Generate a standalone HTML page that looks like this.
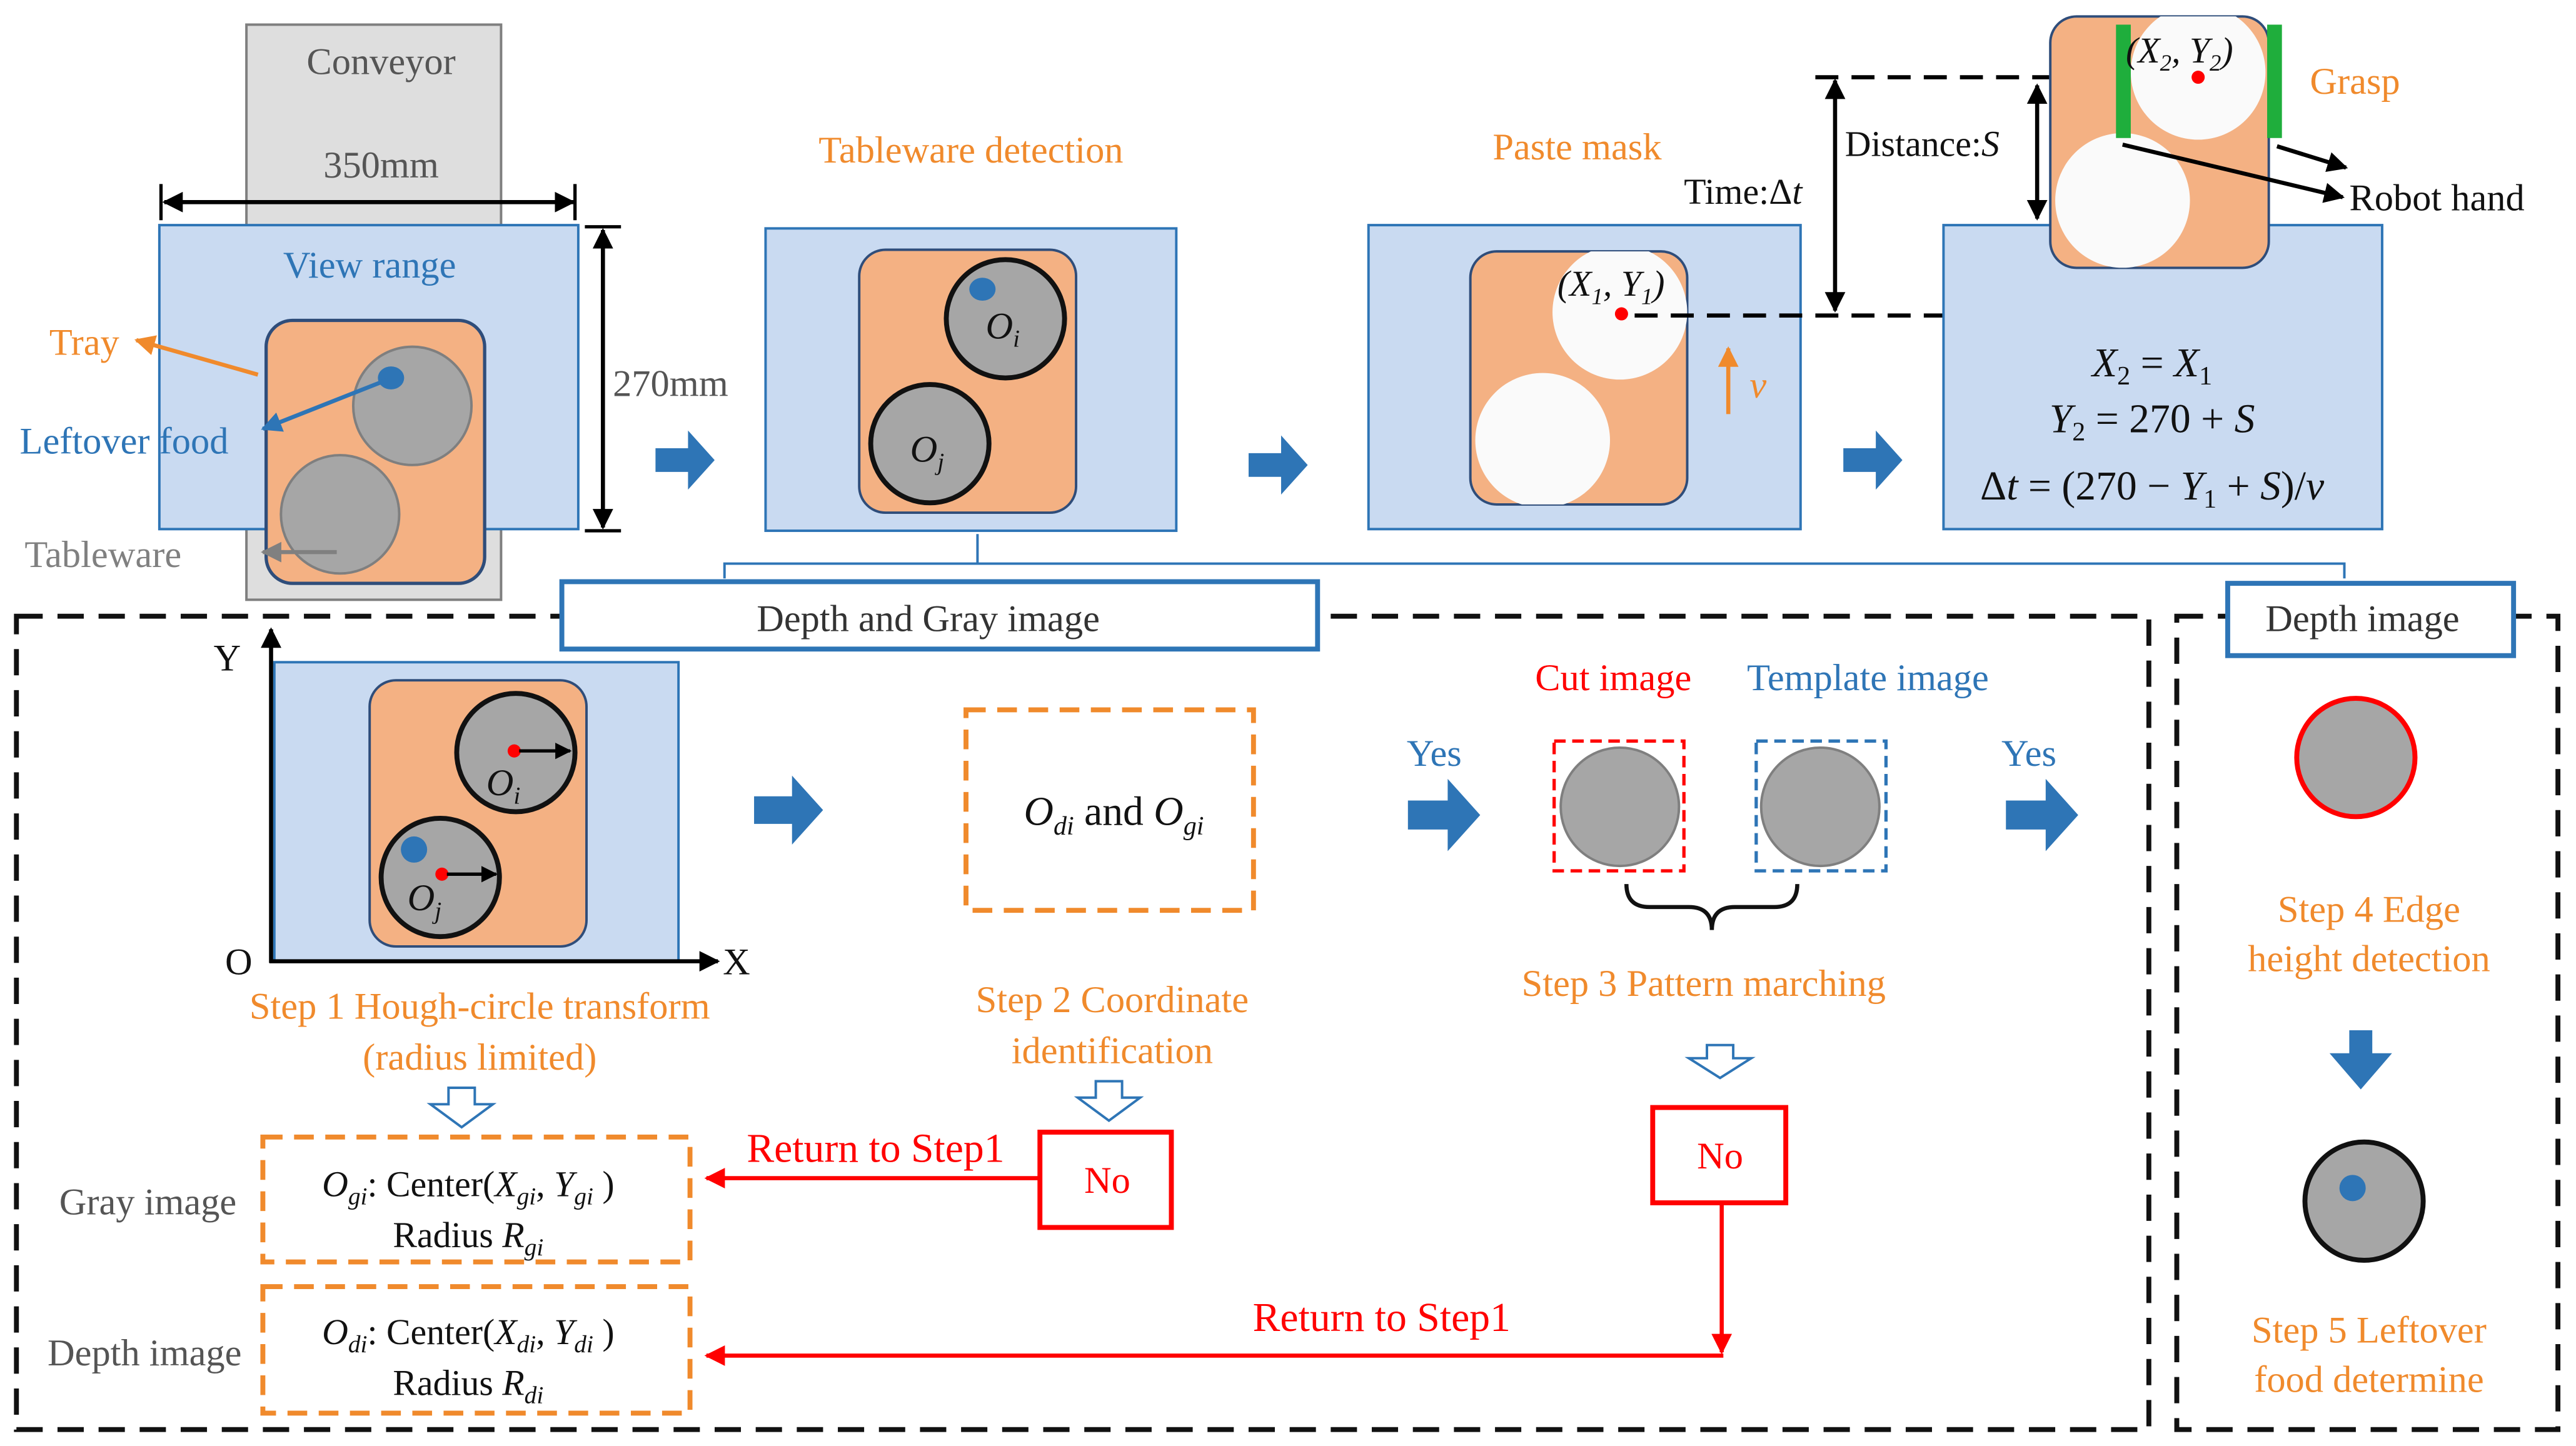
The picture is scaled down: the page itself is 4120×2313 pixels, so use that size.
<!DOCTYPE html>
<html><head><meta charset="utf-8"><style>
html,body{margin:0;padding:0;background:#fff;width:4120px;height:2313px;overflow:hidden}
svg{display:block}
text{font-family:"Liberation Serif",serif}
.o{fill:#f08a2c}.b{fill:#2e75b6}.r{fill:#ff0000}.k{fill:#111}.g{fill:#808080}
.m{font-style:italic}
</style></head><body>
<svg width="4120" height="2313" viewBox="0 0 1568 880" preserveAspectRatio="none" xmlns="http://www.w3.org/2000/svg">
<defs>
<marker id="ak" viewBox="0 0 10 10" refX="9" refY="5" markerWidth="5" markerHeight="5" orient="auto-start-reverse"><path d="M0,0L10,5L0,10z" fill="#000"/></marker>
<marker id="ar" viewBox="0 0 10 10" refX="9" refY="5" markerWidth="5" markerHeight="5" orient="auto"><path d="M0,0L10,5L0,10z" fill="#f00"/></marker>
<marker id="ao" viewBox="0 0 10 10" refX="9" refY="5" markerWidth="5" markerHeight="5" orient="auto"><path d="M0,0L10,5L0,10z" fill="#f08a2c"/></marker>
<marker id="ab" viewBox="0 0 10 10" refX="9" refY="5" markerWidth="5" markerHeight="5" orient="auto"><path d="M0,0L10,5L0,10z" fill="#2e75b6"/></marker>
<marker id="ag" viewBox="0 0 10 10" refX="9" refY="5" markerWidth="5" markerHeight="5" orient="auto"><path d="M0,0L10,5L0,10z" fill="#808080"/></marker>
<clipPath id="c1"><rect x="895" y="153" width="132" height="154" rx="16"/></clipPath>
<clipPath id="c2"><rect x="1248" y="10" width="133" height="153" rx="16"/></clipPath>
<symbol id="barrow" viewBox="0 0 40 40"><path d="M0,12H22V0L40,20L22,40V28H0z" fill="#2e75b6"/></symbol>
</defs>

<rect x="150" y="15" width="155" height="350" fill="#dedede" stroke="#7f7f7f" stroke-width="1.5"/>
<text x="232" y="45" font-size="23" text-anchor="middle" fill="#555">Conveyor</text>
<text x="232" y="108" font-size="23" text-anchor="middle" fill="#555">350mm</text>
<line x1="100" y1="123" x2="349" y2="123" stroke="#000" stroke-width="2.5" marker-start="url(#ak)" marker-end="url(#ak)"/>
<line x1="98" y1="112" x2="98" y2="134" stroke="#000" stroke-width="2"/>
<line x1="350" y1="112" x2="350" y2="134" stroke="#000" stroke-width="2"/>
<rect x="97" y="137" width="255" height="185" fill="#c9daf1" stroke="#2e75b6" stroke-width="1.5"/>
<text x="225" y="169" font-size="23" text-anchor="middle" class="b">View range</text>
<rect x="162" y="195" width="133" height="160" rx="16" fill="#f4b183" stroke="#2f4d7a" stroke-width="2"/>
<circle cx="251" cy="247" r="36" fill="#a6a6a6" stroke="#7f7f7f" stroke-width="1.5"/>
<circle cx="207" cy="313" r="36" fill="#a6a6a6" stroke="#7f7f7f" stroke-width="1.5"/>
<ellipse cx="238" cy="230" rx="8" ry="7" fill="#2e75b6"/>
<text x="30" y="216" font-size="23" class="o">Tray</text>
<line x1="157" y1="228" x2="83" y2="207" stroke="#f08a2c" stroke-width="2.5" marker-end="url(#ao)"/>
<text x="12" y="276" font-size="23" class="b">Leftover food</text>
<line x1="236" y1="231" x2="160" y2="261" stroke="#2e75b6" stroke-width="2.5" marker-end="url(#ab)"/>
<text x="15" y="345" font-size="23" class="g">Tableware</text>
<line x1="205" y1="336" x2="160" y2="336" stroke="#808080" stroke-width="2.5" marker-end="url(#ag)"/>
<line x1="367" y1="140" x2="367" y2="321" stroke="#000" stroke-width="2.5" marker-start="url(#ak)" marker-end="url(#ak)"/>
<line x1="356" y1="138" x2="378" y2="138" stroke="#000" stroke-width="2"/>
<line x1="356" y1="323" x2="378" y2="323" stroke="#000" stroke-width="2"/>
<text x="373" y="241" font-size="23" fill="#555">270mm</text>
<use href="#barrow" x="398" y="262" width="38" height="36"/>

<text x="591" y="99" font-size="23" text-anchor="middle" class="o">Tableware detection</text>
<rect x="466" y="139" width="250" height="184" fill="#c9daf1" stroke="#2e75b6" stroke-width="1.5"/>
<rect x="523" y="152" width="132" height="160" rx="16" fill="#f4b183" stroke="#2f4d7a" stroke-width="1.5"/>
<circle cx="612" cy="194" r="36" fill="#a6a6a6" stroke="#111" stroke-width="3"/>
<circle cx="566" cy="270" r="36" fill="#a6a6a6" stroke="#111" stroke-width="3"/>
<ellipse cx="598" cy="176" rx="8" ry="7" fill="#2e75b6"/>
<text x="600" y="206" font-size="23" class="k m">O<tspan font-size="15" dy="5">i</tspan></text>
<text x="554" y="281" font-size="23" class="k m">O<tspan font-size="15" dy="5">j</tspan></text>
<use href="#barrow" x="760" y="265" width="36" height="36"/>

<text x="960" y="97" font-size="23" text-anchor="middle" class="o">Paste mask</text>
<rect x="833" y="137" width="263" height="185" fill="#c9daf1" stroke="#2e75b6" stroke-width="1.5"/>
<rect x="895" y="153" width="132" height="154" rx="16" fill="#f4b183" stroke="#2f4d7a" stroke-width="1.5"/>
<g clip-path="url(#c1)"><circle cx="986" cy="190" r="41" fill="#fafafa"/><circle cx="939" cy="268" r="41" fill="#fafafa"/></g>
<circle cx="987" cy="191" r="4" fill="#f00"/>
<text x="948" y="180" font-size="22" class="k m">(X<tspan font-size="14" dy="5">1</tspan><tspan dy="-5">, Y</tspan><tspan font-size="14" dy="5">1</tspan><tspan dy="-5">)</tspan></text>
<line x1="995" y1="192" x2="1228" y2="192" stroke="#000" stroke-width="2.5" stroke-dasharray="14,8"/>
<line x1="1052" y1="252" x2="1052" y2="212" stroke="#f08a2c" stroke-width="2.5" marker-end="url(#ao)"/>
<text x="1065" y="242" font-size="23" class="o m">v</text>
<text x="1025" y="124" font-size="22" class="k">Time:Δ<tspan class="m">t</tspan></text>
<line x1="1117" y1="49" x2="1117" y2="189" stroke="#000" stroke-width="2.5" marker-start="url(#ak)" marker-end="url(#ak)"/>
<line x1="1105" y1="47" x2="1300" y2="47" stroke="#000" stroke-width="2.5" stroke-dasharray="14,8"/>
<text x="1123" y="95" font-size="22" class="k">Distance:<tspan class="m">S</tspan></text>
<line x1="1240" y1="52" x2="1240" y2="133" stroke="#000" stroke-width="2.5" marker-start="url(#ak)" marker-end="url(#ak)"/>
<use href="#barrow" x="1122" y="262" width="36" height="36"/>

<rect x="1183" y="137" width="267" height="185" fill="#c9daf1" stroke="#2e75b6" stroke-width="1.5"/>
<rect x="1248" y="10" width="133" height="153" rx="16" fill="#f4b183" stroke="#2f4d7a" stroke-width="1.5"/>
<g clip-path="url(#c2)"><circle cx="1338" cy="44" r="41" fill="#fafafa"/><circle cx="1292" cy="122" r="41" fill="#fafafa"/></g>
<rect x="1288" y="15" width="9" height="69" fill="#1fae3c"/>
<rect x="1380" y="15" width="9" height="69" fill="#1fae3c"/>
<circle cx="1338" cy="47" r="4" fill="#f00"/>
<text x="1294" y="38" font-size="22" class="k m">(X<tspan font-size="14" dy="5">2</tspan><tspan dy="-5">, Y</tspan><tspan font-size="14" dy="5">2</tspan><tspan dy="-5">)</tspan></text>
<text x="1406" y="57" font-size="23" class="o">Grasp</text>
<line x1="1386" y1="89" x2="1428" y2="102" stroke="#000" stroke-width="2.5" marker-end="url(#ak)"/>
<line x1="1292" y1="88" x2="1426" y2="120" stroke="#000" stroke-width="2.5" marker-end="url(#ak)"/>
<text x="1430" y="128" font-size="23" class="k">Robot hand</text>
<text x="1310" y="229" font-size="25" text-anchor="middle" class="k"><tspan class="m">X</tspan><tspan font-size="16" dy="5">2</tspan><tspan dy="-5"> = </tspan><tspan class="m">X</tspan><tspan font-size="16" dy="5">1</tspan></text>
<text x="1310" y="263" font-size="25" text-anchor="middle" class="k"><tspan class="m">Y</tspan><tspan font-size="16" dy="5">2</tspan><tspan dy="-5"> = 270 + </tspan><tspan class="m">S</tspan></text>
<text x="1310" y="304" font-size="25" text-anchor="middle" class="k">Δ<tspan class="m">t</tspan> = (270 − <tspan class="m">Y</tspan><tspan font-size="16" dy="5">1</tspan><tspan dy="-5"> + </tspan><tspan class="m">S</tspan>)/<tspan class="m">v</tspan></text>

<path d="M441,352V343H1427V352M595,343V325" fill="none" stroke="#2e75b6" stroke-width="1.5"/>

<rect x="10" y="375" width="1298" height="495" fill="none" stroke="#111" stroke-width="3" stroke-dasharray="16,9"/>
<rect x="1325" y="375" width="232" height="495" fill="none" stroke="#111" stroke-width="3" stroke-dasharray="16,9"/>
<rect x="342" y="354" width="460" height="41" fill="#fff" stroke="#2e75b6" stroke-width="3"/>
<text x="565" y="384" font-size="23" text-anchor="middle" fill="#333">Depth and Gray image</text>
<rect x="1356" y="355" width="174" height="44" fill="#fff" stroke="#2e75b6" stroke-width="3"/>
<text x="1438" y="384" font-size="23" text-anchor="middle" fill="#333">Depth image</text>

<rect x="167" y="403" width="246" height="182" fill="#c9daf1" stroke="#2e75b6" stroke-width="1.5"/>
<line x1="165" y1="586" x2="165" y2="383" stroke="#000" stroke-width="2.5" marker-end="url(#ak)"/>
<line x1="164" y1="585" x2="437" y2="585" stroke="#000" stroke-width="2.5" marker-end="url(#ak)"/>
<text x="130" y="408" font-size="23" class="k">Y</text>
<text x="137" y="593" font-size="23" class="k">O</text>
<text x="440" y="593" font-size="23" class="k">X</text>
<rect x="225" y="414" width="132" height="162" rx="16" fill="#f4b183" stroke="#2f4d7a" stroke-width="1.5"/>
<circle cx="314" cy="458" r="36" fill="#a6a6a6" stroke="#111" stroke-width="3"/>
<circle cx="268" cy="534" r="36" fill="#a6a6a6" stroke="#111" stroke-width="3"/>
<circle cx="313" cy="457" r="4" fill="#f00"/><line x1="316" y1="457" x2="347" y2="457" stroke="#000" stroke-width="2" marker-end="url(#ak)"/>
<circle cx="269" cy="532" r="4" fill="#f00"/><line x1="272" y1="532" x2="302" y2="532" stroke="#000" stroke-width="2" marker-end="url(#ak)"/>
<ellipse cx="252" cy="517" rx="8" ry="8" fill="#2e75b6"/>
<text x="296" y="484" font-size="23" class="k m">O<tspan font-size="15" dy="5">i</tspan></text>
<text x="248" y="554" font-size="23" class="k m">O<tspan font-size="15" dy="5">j</tspan></text>
<text x="292" y="620" font-size="23" text-anchor="middle" class="o">Step 1 Hough-circle transform</text>
<text x="292" y="651" font-size="23" text-anchor="middle" class="o">(radius limited)</text>
<path d="M273,662h16v10h11l-19,14l-19,-14h11z" fill="#fff" stroke="#2e75b6" stroke-width="1.5"/>
<use href="#barrow" x="450" y="472" width="60" height="42"/>

<rect x="588" y="432" width="175" height="122" fill="none" stroke="#f08a2c" stroke-width="3" stroke-dasharray="12,7"/>
<text x="678" y="502" font-size="25" text-anchor="middle" class="k"><tspan class="m">O</tspan><tspan font-size="16" dy="6" class="m">di</tspan><tspan dy="-6"> and </tspan><tspan class="m">O</tspan><tspan font-size="16" dy="6" class="m">gi</tspan></text>
<text x="677" y="616" font-size="23" text-anchor="middle" class="o">Step 2 Coordinate</text>
<text x="677" y="647" font-size="23" text-anchor="middle" class="o">identification</text>
<path d="M667,658h16v10h11l-19,14l-19,-14h11z" fill="#fff" stroke="#2e75b6" stroke-width="1.5"/>
<rect x="633" y="689" width="80" height="58" fill="#fff" stroke="#f00" stroke-width="3"/>
<text x="674" y="726" font-size="23" text-anchor="middle" class="r">No</text>
<text x="533" y="707" font-size="25" text-anchor="middle" class="r">Return to Step1</text>
<line x1="632" y1="717" x2="430" y2="717" stroke="#f00" stroke-width="2.5" marker-end="url(#ar)"/>

<text x="90" y="739" font-size="23" text-anchor="middle" fill="#555">Gray image</text>
<rect x="160" y="692" width="260" height="76" fill="#fff" stroke="#f08a2c" stroke-width="3" stroke-dasharray="12,7"/>
<text x="285" y="728" font-size="22" text-anchor="middle" class="k"><tspan class="m">O</tspan><tspan font-size="15" dy="5" class="m">gi</tspan><tspan dy="-5">: Center(</tspan><tspan class="m">X</tspan><tspan font-size="15" dy="5" class="m">gi</tspan><tspan dy="-5">, </tspan><tspan class="m">Y</tspan><tspan font-size="15" dy="5" class="m">gi</tspan><tspan dy="-5"> )</tspan></text>
<text x="285" y="759" font-size="22" text-anchor="middle" class="k">Radius <tspan class="m">R</tspan><tspan font-size="15" dy="5" class="m">gi</tspan></text>
<text x="88" y="831" font-size="23" text-anchor="middle" fill="#555">Depth image</text>
<rect x="160" y="783" width="260" height="77" fill="#fff" stroke="#f08a2c" stroke-width="3" stroke-dasharray="12,7"/>
<text x="285" y="818" font-size="22" text-anchor="middle" class="k"><tspan class="m">O</tspan><tspan font-size="15" dy="5" class="m">di</tspan><tspan dy="-5">: Center(</tspan><tspan class="m">X</tspan><tspan font-size="15" dy="5" class="m">di</tspan><tspan dy="-5">, </tspan><tspan class="m">Y</tspan><tspan font-size="15" dy="5" class="m">di</tspan><tspan dy="-5"> )</tspan></text>
<text x="285" y="849" font-size="22" text-anchor="middle" class="k">Radius <tspan class="m">R</tspan><tspan font-size="15" dy="5" class="m">di</tspan></text>

<text x="873" y="466" font-size="23" text-anchor="middle" class="b">Yes</text>
<use href="#barrow" x="849" y="474" width="60" height="44"/>
<text x="982" y="420" font-size="23" text-anchor="middle" class="r">Cut image</text>
<text x="1137" y="420" font-size="23" text-anchor="middle" class="b">Template image</text>
<rect x="946" y="451" width="79" height="79" fill="none" stroke="#f00" stroke-width="2" stroke-dasharray="7,4"/>
<circle cx="986" cy="491" r="36" fill="#a6a6a6" stroke="#7f7f7f" stroke-width="1.5"/>
<rect x="1069" y="451" width="79" height="79" fill="none" stroke="#2e75b6" stroke-width="2" stroke-dasharray="7,4"/>
<circle cx="1108" cy="491" r="36" fill="#a6a6a6" stroke="#7f7f7f" stroke-width="1.5"/>
<path d="M990,538q0,14 14,14h24q14,0 14,14q0,-14 14,-14h24q14,0 14,-14" fill="none" stroke="#111" stroke-width="2.5"/>
<text x="1037" y="606" font-size="23" text-anchor="middle" class="o">Step 3 Pattern marching</text>
<path d="M1039,636h16v8h11l-19,12l-19,-12h11z" fill="#fff" stroke="#2e75b6" stroke-width="1.5"/>
<rect x="1006" y="674" width="81" height="58" fill="#fff" stroke="#f00" stroke-width="3"/>
<text x="1047" y="711" font-size="23" text-anchor="middle" class="r">No</text>
<line x1="1048" y1="733" x2="1048" y2="823" stroke="#f00" stroke-width="2.5" marker-end="url(#ar)"/>
<line x1="1049" y1="825" x2="430" y2="825" stroke="#f00" stroke-width="2.5" marker-end="url(#ar)"/>
<text x="841" y="810" font-size="25" text-anchor="middle" class="r">Return to Step1</text>
<text x="1235" y="466" font-size="23" text-anchor="middle" class="b">Yes</text>
<use href="#barrow" x="1213" y="474" width="60" height="44"/>

<circle cx="1434" cy="461" r="36" fill="#a6a6a6" stroke="#f00" stroke-width="3"/>
<text x="1442" y="561" font-size="23" text-anchor="middle" class="o">Step 4 Edge</text>
<text x="1442" y="591" font-size="23" text-anchor="middle" class="o">height detection</text>
<path d="M1430,627h14v14h12l-19,22l-19,-22h12z" fill="#2e75b6"/>
<circle cx="1439" cy="731" r="36" fill="#a6a6a6" stroke="#111" stroke-width="3"/>
<ellipse cx="1432" cy="723" rx="8" ry="8" fill="#2e75b6"/>
<text x="1442" y="817" font-size="23" text-anchor="middle" class="o">Step 5 Leftover</text>
<text x="1442" y="847" font-size="23" text-anchor="middle" class="o">food determine</text>
</svg>
</body></html>
